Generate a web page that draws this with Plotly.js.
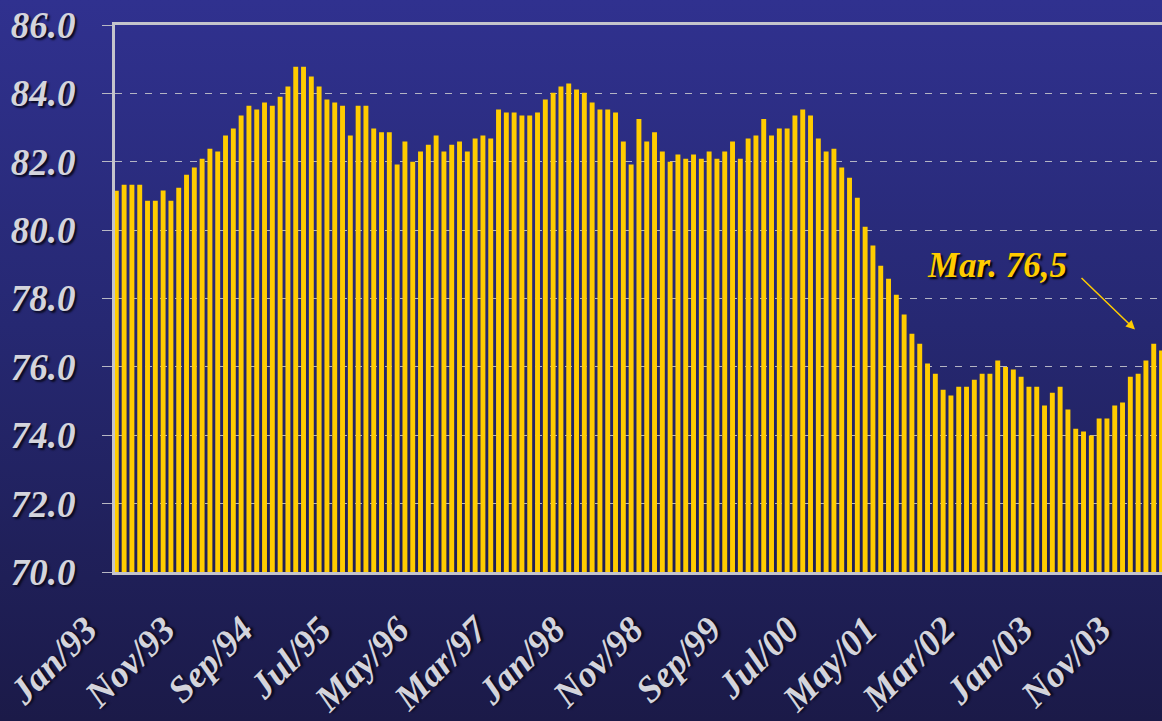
<!DOCTYPE html>
<html>
<head>
<meta charset="utf-8">
<script src="https://cdn.plot.ly/plotly-3.0.1.min.js"></script>
<style>
html, body { margin: 0; padding: 0; }
body { width: 1162px; height: 721px; overflow: hidden;
  background: linear-gradient(to bottom, #30318f 0%, #262872 45%, #1b1a48 100%); }
#chart { width: 1162px; height: 721px; }
</style>
</head>
<body>
<div id="chart"></div>
<script>
// Month categories Jan/93 .. Mar/04
const monthNames = ["Jan","Feb","Mar","Apr","May","Jun","Jul","Aug","Sep","Oct","Nov","Dec"];
const months = [];
for (let y = 93; y <= 104; y++) {
  for (let m = 0; m < 12; m++) {
    if (y === 104 && m > 2) break;
    months.push(monthNames[m] + "/" + String(y % 100).padStart(2, "0"));
  }
}

// Series values
const values = [
  81.15, 81.33, 81.33, 81.33, 80.86, 80.86, 81.16, 80.86, 81.24, 81.62, 81.83, 82.09,
  82.38, 82.30, 82.77, 82.97, 83.35, 83.64, 83.53, 83.73, 83.64, 83.90, 84.20, 84.78,
  84.78, 84.49, 84.20, 83.82, 83.73, 83.64, 82.77, 83.64, 83.64, 82.97, 82.86, 82.86,
  81.92, 82.59, 82.00, 82.30, 82.50, 82.77, 82.30, 82.50, 82.59, 82.30, 82.68, 82.77,
  82.68, 83.53, 83.44, 83.44, 83.35, 83.35, 83.44, 83.82, 84.02, 84.20, 84.29, 84.11,
  84.02, 83.73, 83.53, 83.53, 83.44, 82.59, 81.92, 83.25, 82.59, 82.86, 82.30, 82.00,
  82.21, 82.09, 82.21, 82.09, 82.30, 82.09, 82.30, 82.59, 82.09, 82.68, 82.77, 83.25,
  82.77, 82.97, 82.97, 83.35, 83.53, 83.35, 82.68, 82.30, 82.38, 81.83, 81.53, 80.95,
  80.10, 79.55, 78.96, 78.58, 78.11, 77.53, 76.97, 76.68, 76.10, 75.80, 75.33, 75.16,
  75.42, 75.42, 75.62, 75.80, 75.80, 76.19, 76.00, 75.92, 75.71, 75.42, 75.42, 74.87,
  75.24, 75.42, 74.75, 74.19, 74.11, 73.99, 74.49, 74.49, 74.87, 74.96, 75.71, 75.80,
  76.19, 76.68, 76.48
];

// Tick labels
const xTickLabels = ["Jan/93","Nov/93","Sep/94","Jul/95","May/96","Mar/97","Jan/98",
  "Nov/98","Sep/99","Jul/00","May/01","Mar/02","Jan/03","Nov/03"];
const yTickVals = [70, 72, 74, 76, 78, 80, 82, 84, 86];

// Annotation
const noteText = "Mar. 76,5";

const serif = "'Liberation Serif', 'Times New Roman', serif";
const yLabelFont = {
  family: serif, size: 37, color: "#d4d4dc", weight: "bold", style: "italic",
  shadow: "2px 2px 2px #0a0a20"
};
const xLabelFont = {
  family: serif, size: 37, color: "#d4d4dc", weight: "bold", style: "italic",
  shadow: "2px 2px 2px #0a0a20"
};

const trace = {
  type: "bar",
  x: months,
  y: values,
  marker: { color: "#ffcc00", line: { width: 0 } },
  hoverinfo: "x+y"
};

const layout = {
  width: 1162, height: 721,
  margin: { l: 115, r: 0, t: 25, b: 149 },
  paper_bgcolor: "rgba(0,0,0,0)",
  plot_bgcolor: "rgba(0,0,0,0)",
  bargap: 0.37,
  showlegend: false,
  xaxis: {
    type: "category",
    range: [-0.17, 134.06],
    tickvals: xTickLabels,
    ticktext: xTickLabels,
    tickangle: -45,
    tickfont: xLabelFont,
    ticks: "",
    showgrid: false,
    showline: true, linecolor: "#c4c4cc", linewidth: 3,
    mirror: true,
    ticklabelstandoff: 18,
    ticklabelshift: -30,
    zeroline: false
  },
  yaxis: {
    range: [70, 86],
    tickvals: yTickVals,
    tickformat: ".1f",
    tickfont: yLabelFont,
    ticks: "outside", ticklen: 10, tickcolor: "#b8b8c4", tickwidth: 1,
    showgrid: true, gridcolor: "#b4b4c4", gridwidth: 1, griddash: "7px,8px",
    showline: true, linecolor: "#c4c4cc", linewidth: 3,
    ticklabelstandoff: 19,
    zeroline: false
  },
  annotations: [
    {
      x: 130.6, y: 77.09, xref: "x", yref: "y",
      ax: 123.55, ay: 78.64, axref: "x", ayref: "y",
      text: "", showarrow: true,
      arrowcolor: "#ffcc00", arrowwidth: 1.5, arrowhead: 2, arrowsize: 1.2
    },
    {
      x: 112.9, y: 78.96, xref: "x", yref: "y",
      text: noteText, showarrow: false,
      font: { family: serif, size: 35,
        color: "#ffcc00", weight: "bold", style: "italic", shadow: "2px 2px 2px #000000" }
    }
  ]
};

Plotly.newPlot("chart", [trace], layout, { displayModeBar: false, staticPlot: true });
</script>
</body>
</html>
